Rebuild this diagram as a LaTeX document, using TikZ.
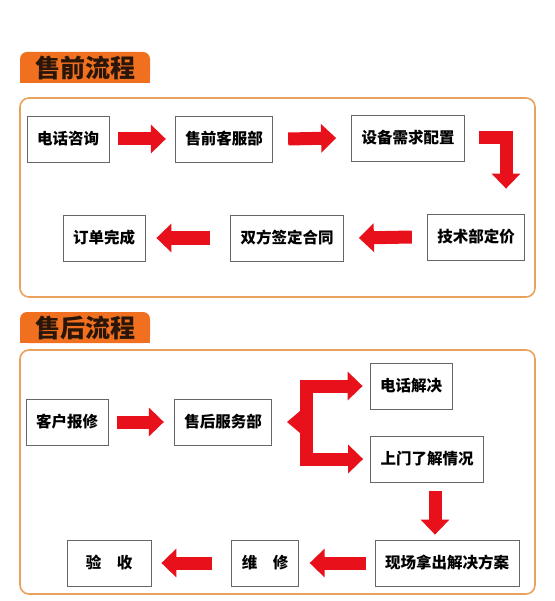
\documentclass[tikz,border=0pt]{standalone}
\usepackage{fontspec}
\setmainfont{Noto Sans CJK SC}
\usepackage{tikz}
\usetikzlibrary{arrows.meta,positioning}
\definecolor{tabOrange}{HTML}{F07020}
\definecolor{frameOrange}{HTML}{E9A15E}
\definecolor{arrowRed}{HTML}{E8101A}
\definecolor{tabText}{HTML}{2A1608}

\begin{document}
\begin{tikzpicture}[x=1pt,y=-1pt,
  stepbox/.style={draw=black!60,line width=0.8pt,fill=white,minimum height=46pt,
    inner xsep=10pt,font=\fontsize{15.5}{16}\selectfont\bfseries},
  tab/.style={fill=tabOrange,rounded corners=7pt,minimum width=130pt,minimum height=31pt,
    inner sep=0pt,text=tabText,font=\fontsize{25}{26}\selectfont\bfseries},
  frame/.style={draw=frameOrange,line width=1.6pt,rounded corners=9pt},
  bigarrow/.style={draw=arrowRed,line width=13pt,-{Triangle[length=15pt,width=28pt]}},
  forkarrow/.style={draw=arrowRed,line width=13pt,line join=miter,
    {Triangle[length=15pt,width=28pt]}-{Triangle[length=15pt,width=28pt]}}]
\useasboundingbox (0,0) rectangle (554,601);
% pre-sale
\fill[tabOrange] (20,67) rectangle (150,83);
\node[tab] (pretab) at (85,67.5) {售前流程};
\draw[frame] (20,98) rectangle (535,297);
\node[stepbox] (call) at (68,139) {电话咨询};
\node[stepbox] (presvc) at (224,139) {售前客服部};
\node[stepbox] (config) at (408,138) {设备需求配置};
\node[stepbox] (price) at (476,237) {技术部定价};
\node[stepbox] (contract) at (287,238) {双方签定合同};
\node[stepbox] (done) at (104,238) {订单完成};
\draw[bigarrow] ([xshift=9pt]call.east) -- ([xshift=-9pt]presvc.west);
\draw[bigarrow] ([xshift=15pt]presvc.east) -- ([xshift=-15pt]config.west);
\draw[bigarrow,line join=miter] ([xshift=14pt]config.east) -| ([xshift=30pt,yshift=25pt]price.north);
\draw[bigarrow] ([xshift=-15pt]price.west) -- ([xshift=15pt]contract.east);
\draw[bigarrow] ([xshift=-20pt]contract.west) -- ([xshift=11pt]done.east);
% after-sale
\fill[tabOrange] (20,327) rectangle (150,343);
\node[tab] (posttab) at (85,327.5) {售后流程};
\draw[frame] (20,350) rectangle (535,594);
\node[stepbox] (report) at (67,422) {客户报修};
\node[stepbox] (aftersvc) at (223,422) {售后服务部};
\node[stepbox] (phone) at (411,386) {电话解决};
\node[stepbox] (visit) at (427,459) {上门了解情况};
\node[stepbox] (plan) at (447,563) {现场拿出解决方案};
\node[stepbox] (repair) at (265,563) {维\hspace{1em}修};
\node[stepbox,minimum width=84pt] (accept) at (109,563) {验\hspace{1em}收};
\coordinate (fork) at (306,422);
\draw[bigarrow] ([xshift=9pt]report.east) -- ([xshift=-10pt]aftersvc.west);
\draw[forkarrow] ([xshift=-7pt]phone.west) -| (fork) |- ([xshift=-7pt]visit.west);
\fill[arrowRed] ([xshift=-6pt,yshift=11pt]fork) -- ([xshift=-19pt]fork) -- ([xshift=-6pt,yshift=-11pt]fork) -- cycle;
\draw[bigarrow] ([xshift=8pt,yshift=-9pt]visit.south) -- ([xshift=8pt,yshift=5pt]visit.south |- plan.north);
\draw[bigarrow] ([xshift=-9pt]plan.west) -- ([xshift=11pt]repair.east);
\draw[bigarrow] ([xshift=-19pt]repair.west) -- ([xshift=10pt]accept.east);
\end{tikzpicture}
\end{document}
